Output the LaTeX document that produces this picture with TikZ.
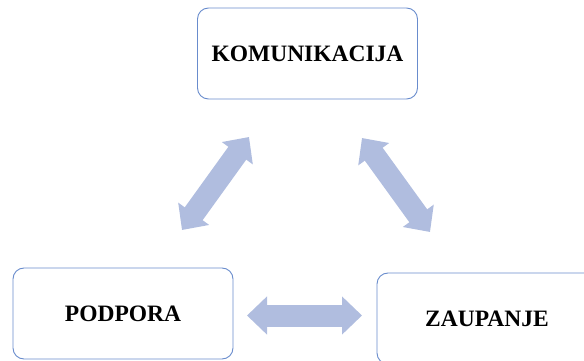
\documentclass[tikz,border=0pt]{standalone}
\usepackage{fontspec}
\setmainfont{Liberation Serif}
\usetikzlibrary{arrows.meta}
\definecolor{boxline}{RGB}{105,140,205}
\definecolor{arrowfill}{RGB}{176,189,223}
\tikzset{
  conceptbox/.style={draw=boxline, line width=0.9pt, rounded corners=11pt, fill=white,
    minimum width=220pt, minimum height=91pt, inner sep=0pt,
    font=\fontsize{23.5}{26}\selectfont\bfseries},
  fatarrow/.style={draw=arrowfill, line width=22pt,
    {Triangle[length=20pt,width=37pt]}-{Triangle[length=20pt,width=37pt]}}
}
\begin{document}
\begin{tikzpicture}[x=1pt,y=-1pt]
\useasboundingbox (0,0) rectangle (584,361);
\clip (0,0) rectangle (584,361);
\node[conceptbox] (kom) at (307.5,53.5) {KOMUNIKACIJA};
\node[conceptbox] (pod) at (123,313.5) {PODPORA};
\node[conceptbox] (zau) at (487,318.5) {ZAUPANJE};
\coordinate (a1) at (249,137);
\coordinate (a2) at (182,230);
\coordinate (b1) at (362,138);
\coordinate (b2) at (430,232);
\coordinate (c1) at (247,315.5);
\coordinate (c2) at (362,315.5);
\draw[fatarrow] (a1) -- (a2);
\draw[fatarrow] (b1) -- (b2);
\draw[fatarrow] (c1) -- (c2);
\end{tikzpicture}
\end{document}
